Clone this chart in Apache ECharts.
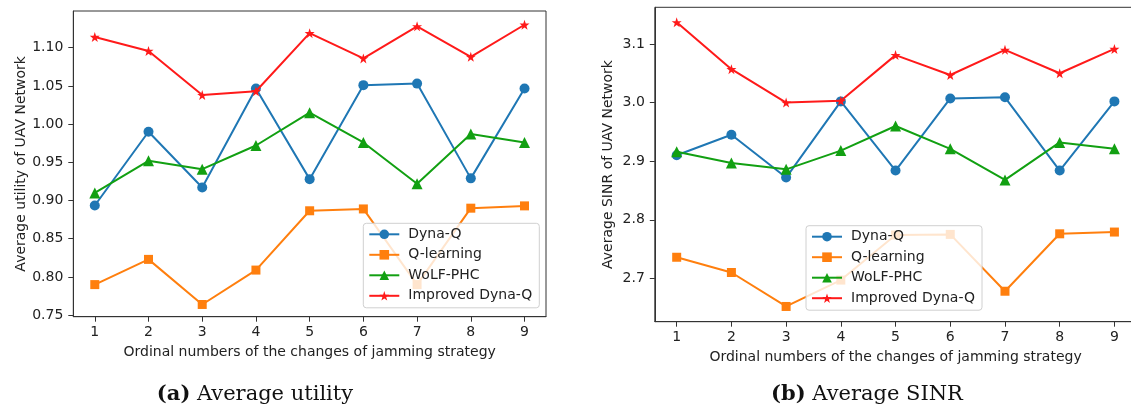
<!DOCTYPE html>
<html>
<head>
<meta charset="utf-8">
<script src="https://cdn.jsdelivr.net/npm/echarts@6/dist/echarts.min.js"></script>
<style>
html,body{margin:0;padding:0;background:#fff;}
#c{width:1131px;height:409px;}
</style>
</head>
<body>
<div id="c"></div>
<script>
// ---- data ----
const categories = [1, 2, 3, 4, 5, 6, 7, 8, 9];
const seriesNames = ['Dyna-Q', 'Q-learning', 'WoLF-PHC', 'Improved Dyna-Q'];

const utilDynaQ    = [0.8935, 0.990, 0.917, 1.0465, 0.928, 1.051, 1.053, 0.929, 1.0465];
const utilQLearn   = [0.790, 0.823, 0.764, 0.809, 0.8866, 0.889, 0.790, 0.890, 0.893];
const utilWoLF     = [0.910, 0.952, 0.941, 0.972, 1.015, 0.976, 0.922, 0.987, 0.976];
const utilImproved = [1.114, 1.0957, 1.038, 1.043, 1.119, 1.086, 1.128, 1.088, 1.130];

const sinrDynaQ    = [2.910, 2.945, 2.872, 3.002, 2.884, 3.007, 3.009, 2.884, 3.002];
const sinrQLearn   = [2.736, 2.710, 2.652, 2.697, 2.774, 2.775, 2.678, 2.776, 2.779];
const sinrWoLF     = [2.916, 2.897, 2.886, 2.918, 2.960, 2.921, 2.868, 2.932, 2.921];
const sinrImproved = [3.137, 3.057, 3.000, 3.003, 3.081, 3.047, 3.090, 3.050, 3.0915];

const utilTicks = [0.75, 0.80, 0.85, 0.90, 0.95, 1.00, 1.05, 1.10];
const sinrTicks = [2.7, 2.8, 2.9, 3.0, 3.1];

const xLabel = 'Ordinal numbers of the changes of jamming strategy';
const utilYLabel = 'Average utility of UAV Network';
const sinrYLabel = 'Average SINR of UAV Network';
// ---------------

const STAR = 'path://M50,0 L61.8,35.1 L98.1,35.1 L68.8,56.7 L79.4,91 L50,70 L20.6,91 L31.2,56.7 L1.9,35.1 L38.2,35.1 Z';
const colors = ['#1f77b4', '#ff7f0e', '#12a012', '#ff1a1a'];
const symbols = ['circle', 'rect', 'triangle', STAR];
const sizes = [10, 9, 11, 10];

const FONT = 'DejaVu Sans';
const textColor = '#222';
const spine = '#333';

function pairs(vals) { return categories.map((c, i) => [c, vals[i]]); }

function xAxis(gi) {
  return {
    type: 'value', gridIndex: gi, min: 0.6, max: 9.4,
    splitLine: {show: false},
    axisLine: {show: true, lineStyle: {color: spine, width: 1}},
    axisTick: {show: true, length: 5, lineStyle: {color: spine}, customValues: categories},
    axisLabel: {customValues: categories, color: textColor, fontFamily: FONT, fontSize: 14, margin: 9},
    name: xLabel, nameLocation: 'middle', nameGap: 29,
    nameTextStyle: {color: textColor, fontFamily: FONT, fontSize: 14}
  };
}
function yAxis(gi, min, max, ticks, dec, name, gap) {
  return {
    type: 'value', gridIndex: gi, min: min, max: max,
    splitLine: {show: false},
    axisLine: {show: true, lineStyle: {color: spine, width: 1}},
    axisTick: {show: true, length: 5, lineStyle: {color: spine}, customValues: ticks},
    axisLabel: {customValues: ticks, color: textColor, fontFamily: FONT, fontSize: 14, margin: 10,
      formatter: v => Number(v).toFixed(dec)},
    name: name, nameLocation: 'middle', nameGap: gap,
    nameTextStyle: {color: textColor, fontFamily: FONT, fontSize: 14}
  };
}
function makeSeries(gi, arrs) {
  return arrs.map((vals, k) => ({
    type: 'line', name: seriesNames[k], xAxisIndex: gi, yAxisIndex: gi,
    data: pairs(vals), symbol: symbols[k], symbolSize: sizes[k],
    showAllSymbol: true, animation: false, z: 2 + k,
    lineStyle: {color: colors[k], width: 2},
    itemStyle: {color: colors[k]}
  }));
}
function legend(left, top) {
  return {
    orient: 'vertical', left: left, top: top,
    data: seriesNames, itemWidth: 30, itemHeight: 12, itemGap: 6.5,
    padding: [4, 7, 5, 5],
    backgroundColor: 'rgba(255,255,255,0.8)', borderColor: '#d0d0d0', borderWidth: 1, borderRadius: 3,
    textStyle: {color: textColor, fontFamily: FONT, fontSize: 14, padding: [0, 0, 0, 4]},
    selectedMode: false
  };
}

const chart = echarts.init(document.getElementById('c'), null, {renderer: 'canvas'});
chart.setOption({
  backgroundColor: '#fff',
  animation: false,
  grid: [
    {left: 73.3, top: 11, width: 472.7, height: 305.7, show: true, borderColor: spine, borderWidth: 1,
      backgroundColor: 'transparent', containLabel: false, outerBoundsMode: 'none'},
    {left: 654.8, top: 7.3, width: 481.5, height: 314.4, show: true, borderColor: spine, borderWidth: 1,
      backgroundColor: 'transparent', containLabel: false, outerBoundsMode: 'none'}
  ],
  xAxis: [xAxis(0), xAxis(1)],
  yAxis: [
    yAxis(0, 0.748, 1.148, utilTicks, 2, utilYLabel, 45),
    yAxis(1, 2.626, 3.1626, sinrTicks, 1, sinrYLabel, 39)
  ],
  legend: [legend(363.3, 223.3), legend(806, 225.7)],
  series: makeSeries(0, [utilDynaQ, utilQLearn, utilWoLF, utilImproved])
    .concat(makeSeries(1, [sinrDynaQ, sinrQLearn, sinrWoLF, sinrImproved])),
  graphic: [
    {type: 'text', x: 255, y: 395, style: {text: '{b|(a)} Average utility', textAlign: 'center', textVerticalAlign: 'middle',
      font: '21px "DejaVu Serif"', fill: '#111', rich: {b: {fontWeight: 'bold', fontSize: 21, fontFamily: 'DejaVu Serif', fill: '#111'}}}},
    {type: 'text', x: 867, y: 395, style: {text: '{b|(b)} Average SINR', textAlign: 'center', textVerticalAlign: 'middle',
      font: '21px "DejaVu Serif"', fill: '#111', rich: {b: {fontWeight: 'bold', fontSize: 21, fontFamily: 'DejaVu Serif', fill: '#111'}}}}
  ]
});
</script>
</body>
</html>
